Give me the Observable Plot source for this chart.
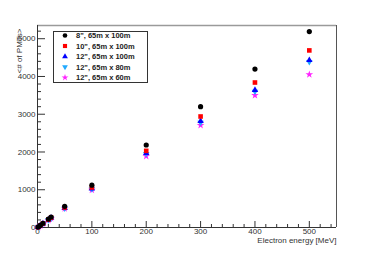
<!DOCTYPE html>
<html>
<head>
<meta charset="utf-8">
<script src="https://cdn.jsdelivr.net/npm/d3@7"></script>
<script src="https://cdn.jsdelivr.net/npm/@observablehq/plot@0.6"></script>
<style>
  html, body { margin: 0; padding: 0; background: #fff; }
  #chart { position: relative; width: 374px; height: 253px; }
</style>
</head>
<body>
<div id="chart"></div>
<script>
const energies = [1, 5, 10, 20, 25, 50, 100, 200, 300, 400, 500];
const seriesNames = ['8", 65m x 100m', '10", 65m x 100m', '12", 65m x 100m', '12", 65m x 80m', '12", 65m x 60m'];
const pmt8_100  = [11, 55, 112, 222, 278, 560, 1120, 2185, 3200, 4196, 5190];
const pmt10_100 = [10, 52, 105, 210, 262, 530, 1060, 2030, 2940, 3840, 4690];
const pmt12_100 = [10, 50, 102, 205, 255, 515, 1030, 1970, 2820, 3640, 4430];
const pmt12_80  = [10, 50, 100, 200, 250, 510, 1020, 1950, 2780, 3600, 4390];
const pmt12_60  = [9, 48, 97, 195, 245, 500, 995, 1890, 2710, 3500, 4050];
const xMajor = [0, 100, 200, 300, 400, 500];
const yMajor = [0, 1000, 2000, 3000, 4000, 5000];
const xLabel = "Electron energy [MeV]";
const yLabel = "<# of PMTs>";

const colors = ["#000000", "#ff0000", "#0000ff", "#22aaff", "#ff22ff"];
const triangleDown = {
  draw(context, size) {
    const y = -Math.sqrt(size / (3 * Math.sqrt(3)));
    context.moveTo(0, -y * 2);
    context.lineTo(-Math.sqrt(3) * y, y);
    context.lineTo(Math.sqrt(3) * y, y);
    context.closePath();
  }
};
const symbols = [d3.symbolCircle, d3.symbolSquare, d3.symbolTriangle, triangleDown, d3.symbolStar];
const radii = [2.6, 2.6, 2.4, 2.4, 2.4];
const allSeries = [pmt8_100, pmt10_100, pmt12_100, pmt12_80, pmt12_60];

const rows = [];
allSeries.forEach((vals, s) => vals.forEach((v, i) => rows.push({s, x: energies[i], y: v})));

const xMinor = d3.range(0, 551, 20).filter(v => v % 100 !== 0);
const yMinor = d3.range(0, 5351, 200).filter(v => v % 1000 !== 0);
const font = "Liberation Sans, Arial, Helvetica, sans-serif";

const plot = Plot.plot({
  width: 374,
  height: 253,
  marginLeft: 37,
  marginRight: 38,
  marginTop: 25,
  marginBottom: 26,
  style: {fontFamily: font, fontSize: "8px", color: "#333", background: "#fff"},
  x: {domain: [0, 550]},
  y: {domain: [0, 5350]},
  marks: [
    Plot.ruleY([5350], {stroke: "#9a9a9a", strokeWidth: 1.6}),
    Plot.ruleX([550], {stroke: "#555", strokeWidth: 1}),
    Plot.ruleY([0], {stroke: "#333", strokeWidth: 1}),
    Plot.ruleX([0], {stroke: "#333", strokeWidth: 1}),
    Plot.axisX({ticks: xMajor, tickSize: -6, text: null, label: null, stroke: "#333"}),
    Plot.axisX({ticks: xMinor, tickSize: -3, text: null, label: null, stroke: "#333"}),
    Plot.axisX({ticks: xMajor, tickSize: 0, tickPadding: 1, label: null, fill: "#333", tickFormat: d => String(d)}),
    Plot.axisY({ticks: yMajor, tickSize: -8, text: null, label: null, stroke: "#333"}),
    Plot.axisY({ticks: yMinor, tickSize: -4, text: null, label: null, stroke: "#333"}),
    Plot.axisY({ticks: yMajor, tickSize: 0, tickPadding: 2, label: null, fill: "#333", tickFormat: d => String(d)}),
    Plot.text([xLabel], {frameAnchor: "bottom-right", dy: 15.5, textAnchor: "end", fill: "#333", fontSize: 8}),
    Plot.text([yLabel], {frameAnchor: "top-left", dx: -21, dy: 3, rotate: -90, textAnchor: "end", fill: "#333", fontSize: 8}),
    ...[4, 3, 2, 1, 0].map(s => Plot.dot(rows.filter(d => d.s === s), {
      x: "x", y: "y", r: radii[s], symbol: () => symbols[s], fill: colors[s], stroke: "none"
    }))
  ]
});

document.getElementById("chart").appendChild(plot);

// legend drawn inside the SVG
const svg = d3.select(plot);
const lg = svg.append("g").attr("transform", "translate(53.5,31.5)").attr("text-anchor", "start");
lg.append("rect").attr("width", 94).attr("height", 51).attr("fill", "#fff").attr("stroke", "#333").attr("stroke-width", 1);
seriesNames.forEach((name, i) => {
  const cy = 4 + i * 10.5;
  lg.append("path")
    .attr("transform", `translate(11.5,${cy})`)
    .attr("d", d3.symbol(symbols[i], Math.PI * radii[i] * radii[i] * 0.8)())
    .attr("fill", colors[i]);
  lg.append("text")
    .attr("x", 22.5).attr("y", cy).attr("dy", "0.35em")
    .attr("text-anchor", "start")
    .attr("font-family", font).attr("font-size", 7.5).attr("font-weight", "bold")
    .attr("fill", "#222")
    .text(name);
});
</script>
</body>
</html>
